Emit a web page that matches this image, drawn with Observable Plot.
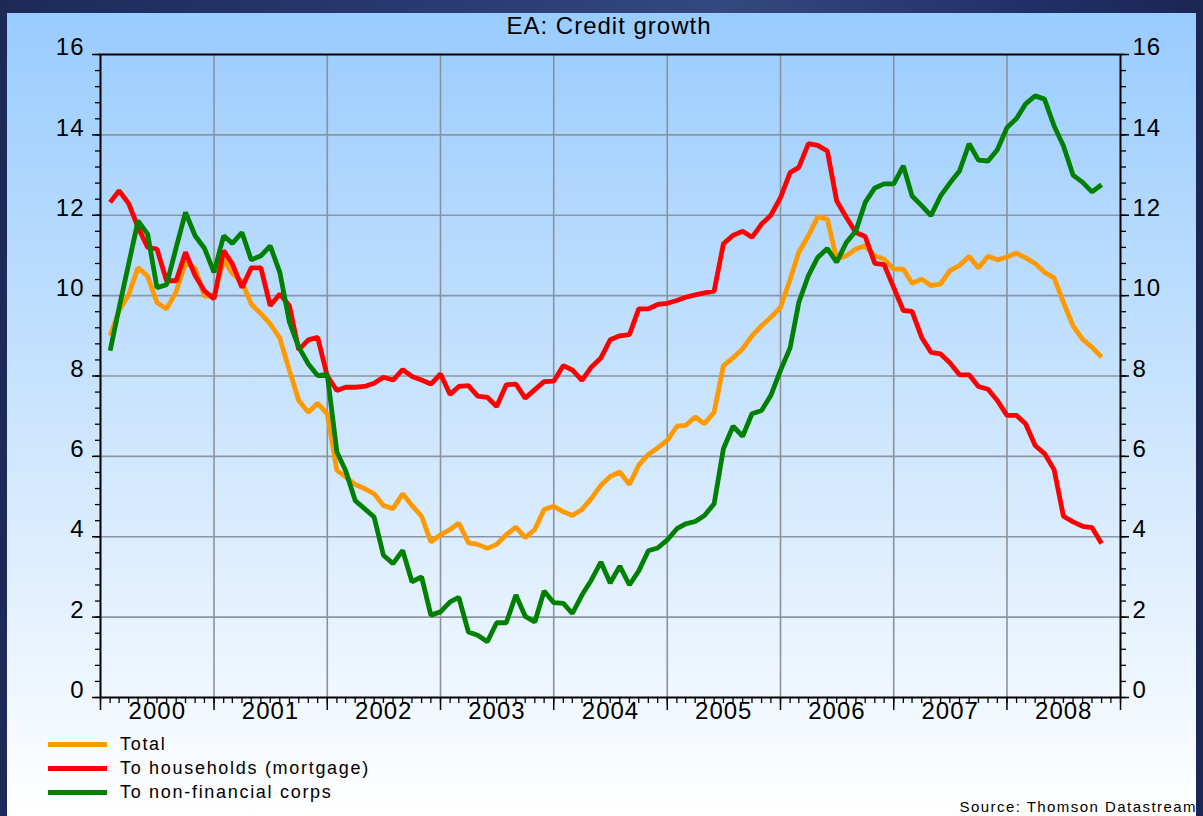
<!DOCTYPE html>
<html>
<head>
<meta charset="utf-8">
<script src="https://cdn.jsdelivr.net/npm/d3@7"></script>
<script src="https://cdn.jsdelivr.net/npm/@observablehq/plot@0.6"></script>
<style>
  html, body { margin: 0; padding: 0; }
  body { font-family: "Liberation Sans", Arial, sans-serif; }
  #page { position: relative; width: 1203px; height: 816px; overflow: hidden;
    background: linear-gradient(90deg, #1d2a58 0%, #273a72 35%, #34497f 60%, #22306a 85%, #1b2654 100%); }
  #panel { position: absolute; left: 7px; top: 13px; width: 1189px; height: 803px;
    background: linear-gradient(180deg, #99ccff 0%, #c6e2fd 45%, #f0f7ff 85%, #ffffff 100%); }
  #chart { position: absolute; left: 0; top: 0; }
  #title { position: absolute; left: 0; width: 1218px; top: 13px; text-align: center;
    font-size: 24px; line-height: 26px; letter-spacing: 1px; color: #000; }
  .leg { position: absolute; left: 48px; height: 24px; display: flex; align-items: center;
    font-size: 18px; letter-spacing: 1.7px; color: #000; }
  .sw { display: inline-block; width: 59px; height: 5px; margin-right: 13px; }
  #source { position: absolute; right: 6px; top: 798px; font-size: 15px; letter-spacing: 1.45px; color: #000; }
</style>
</head>
<body>
<div id="page">
  <div id="panel"></div>
  <div id="chart"></div>
  <div id="title">EA: Credit growth</div>
  <div id="legend"></div>
  <div id="source">Source: Thomson Datastream</div>
</div>
<script>
// Monthly observations, Feb 2000 .. Nov 2008 (106 months)
const startYear = 2000, startMonth = 1, nMonths = 106;
const seriesNames = ["Total", "To households (mortgage)", "To non-financial corps"];
const seriesColors = ["#ff9900", "#ff0000", "#008000"];

const total = [
  9.0, 9.63, 10.02, 10.7, 10.48, 9.83, 9.67, 10.1, 10.81, 10.68, 9.99, 10.0, 10.89, 10.55, 10.35, 9.79, 9.55, 9.3, 8.94, 8.14,
  7.39, 7.1, 7.32, 7.06, 5.65, 5.49, 5.3, 5.2, 5.07, 4.78, 4.7, 5.07, 4.78, 4.51, 3.87, 4.05, 4.18, 4.34, 3.85, 3.81,
  3.71, 3.81, 4.05, 4.24, 3.98, 4.18, 4.68, 4.76, 4.62, 4.53, 4.68, 4.95, 5.28, 5.5, 5.61, 5.3, 5.78, 6.05, 6.21, 6.4,
  6.75, 6.77, 6.98, 6.81, 7.1, 8.26, 8.45, 8.68, 9.0, 9.25, 9.46, 9.71, 10.4, 11.08, 11.49, 11.96, 11.9, 10.91, 10.99, 11.16,
  11.24, 10.99, 10.91, 10.66, 10.66, 10.31, 10.41, 10.25, 10.29, 10.62, 10.75, 10.98, 10.69, 10.98, 10.89, 10.96, 11.06, 10.94, 10.8, 10.58,
  10.44, 9.83, 9.25, 8.91, 8.72, 8.47
];
const households = [
  12.32, 12.61, 12.29, 11.7, 11.2, 11.16, 10.37, 10.37, 11.08, 10.5, 10.12, 9.92, 11.12, 10.79, 10.2, 10.69, 10.69, 9.75, 10.04, 9.75,
  8.65, 8.9, 8.96, 8.0, 7.64, 7.72, 7.72, 7.74, 7.82, 7.97, 7.9, 8.16, 7.99, 7.9, 7.8, 8.05, 7.54, 7.74, 7.76, 7.5,
  7.47, 7.24, 7.78, 7.8, 7.45, 7.66, 7.86, 7.87, 8.26, 8.15, 7.89, 8.22, 8.45, 8.9, 9.0, 9.03, 9.67, 9.67, 9.78, 9.81,
  9.88, 9.96, 10.02, 10.07, 10.11, 11.29, 11.5, 11.6, 11.45, 11.78, 12.0, 12.44, 13.06, 13.19, 13.78, 13.74, 13.6, 12.36, 11.95, 11.57,
  11.47, 10.8, 10.77, 10.2, 9.63, 9.61, 8.96, 8.59, 8.55, 8.33, 8.03, 8.03, 7.74, 7.67, 7.39, 7.02, 7.02, 6.81, 6.27, 6.07,
  5.67, 4.51, 4.37, 4.26, 4.23, 3.83
];
const corps = [
  8.63, 9.7, 10.8, 11.86, 11.53, 10.2, 10.27, 11.2, 12.07, 11.49, 11.18, 10.58, 11.49, 11.3, 11.57, 10.89, 10.99, 11.24, 10.58, 9.34,
  8.72, 8.3, 8.01, 8.04, 6.11, 5.65, 4.9, 4.7, 4.49, 3.54, 3.33, 3.66, 2.88, 3.0, 2.05, 2.13, 2.38, 2.49, 1.63, 1.55,
  1.39, 1.86, 1.86, 2.55, 2.02, 1.88, 2.65, 2.36, 2.34, 2.09, 2.55, 2.92, 3.37, 2.85, 3.27, 2.8, 3.15, 3.65, 3.72, 3.92,
  4.2, 4.32, 4.38, 4.53, 4.82, 6.19, 6.75, 6.5, 7.06, 7.14, 7.52, 8.14, 8.7, 9.83, 10.5, 10.95, 11.17, 10.83, 11.32, 11.61,
  12.32, 12.68, 12.78, 12.78, 13.23, 12.48, 12.24, 11.99, 12.48, 12.8, 13.1, 13.78, 13.37, 13.35, 13.63, 14.18, 14.41, 14.77, 14.97, 14.89,
  14.22, 13.73, 13.0, 12.82, 12.58, 12.76
];
const yTickLabels = [0, 2, 4, 6, 8, 10, 12, 14, 16];
const yGridValues = [2, 4, 6, 8, 10, 12, 14];
const yearLabels = [2000, 2001, 2002, 2003, 2004, 2005, 2006, 2007, 2008];

const dates = d3.range(nMonths).map(i => new Date(Date.UTC(startYear, startMonth + i, 1)));
const seriesValues = [total, households, corps];
const rows = seriesValues.flatMap((vals, s) => vals.map((v, i) => ({date: dates[i], value: v, series: seriesNames[s]})));

const x0 = new Date(Date.UTC(2000, 0, 1)), x1 = new Date(Date.UTC(2009, 0, 1));
const monthTicks = d3.utcMonth.range(x0, new Date(Date.UTC(2009, 0, 2)));
const yearTicks = d3.utcYear.range(x0, new Date(Date.UTC(2009, 0, 2)));
const yearMids = yearLabels.map(y => new Date(Date.UTC(y, 6, 2)));
const innerYears = yearTicks.slice(1, -1);
const minorY = d3.range(0, 16.001, 0.4).map(v => +v.toFixed(1));

const chart = Plot.plot({
  width: 1203,
  height: 816,
  marginLeft: 100,
  marginRight: 83,
  marginTop: 54,
  marginBottom: 119,
  style: {background: "transparent", font: "24px 'Liberation Sans', Arial, sans-serif", overflow: "visible"},
  x: {type: "utc", domain: [x0, x1]},
  y: {domain: [0, 16]},
  color: {domain: seriesNames, range: seriesColors},
  marks: [
    Plot.gridY(yGridValues, {stroke: "#8a96a3", strokeOpacity: 1, strokeWidth: 1.6}),
    Plot.gridX(innerYears, {stroke: "#8e9296", strokeOpacity: 1, strokeWidth: 1.6}),
    Plot.axisY({anchor: "left", ticks: minorY, tickSize: 5, tickFormat: () => "", label: null, strokeWidth: 1.3}),
    Plot.axisY({anchor: "right", ticks: minorY, tickSize: 5, tickFormat: () => "", label: null, strokeWidth: 1.3}),
    Plot.axisY({anchor: "left", ticks: yTickLabels, tickSize: 8, tickFormat: () => "", label: null, strokeWidth: 1.5}),
    Plot.axisY({anchor: "right", ticks: yTickLabels, tickSize: 8, tickFormat: () => "", label: null, strokeWidth: 1.5}),
    Plot.axisX({anchor: "bottom", ticks: monthTicks, tickSize: 6, tickFormat: () => "", label: null, strokeWidth: 1.3}),
    Plot.axisX({anchor: "bottom", ticks: yearTicks, tickSize: 13, tickFormat: () => "", label: null, strokeWidth: 1.5}),
    Plot.text(yTickLabels, {y: d => d, text: d => String(d), frameAnchor: "left", textAnchor: "end", dx: -16, dy: -7, fill: "black", fontSize: 24}),
    Plot.text(yTickLabels, {y: d => d, text: d => String(d), frameAnchor: "right", textAnchor: "start", dx: 12, dy: -7, fill: "black", fontSize: 24}),
    Plot.text(yearMids, {x: d => d, text: (d, i) => String(yearLabels[i]), frameAnchor: "bottom", dy: 21, fill: "black", fontSize: 24}),
    Plot.lineY(rows, {x: "date", y: "value", z: "series", stroke: "series", strokeWidth: 4.8, strokeLinejoin: "miter", strokeLinecap: "butt"}),
    Plot.frame({stroke: "black", strokeWidth: 2})
  ]
});
chart.querySelectorAll("text").forEach(t => t.style.letterSpacing = "1px");
document.getElementById("chart").append(chart);

const legend = document.getElementById("legend");
seriesNames.forEach((name, i) => {
  const row = document.createElement("div");
  row.className = "leg";
  row.style.top = (732 + i * 24) + "px";
  const sw = document.createElement("span");
  sw.className = "sw";
  sw.style.background = seriesColors[i];
  row.append(sw, document.createTextNode(name));
  legend.append(row);
});
</script>
</body>
</html>
